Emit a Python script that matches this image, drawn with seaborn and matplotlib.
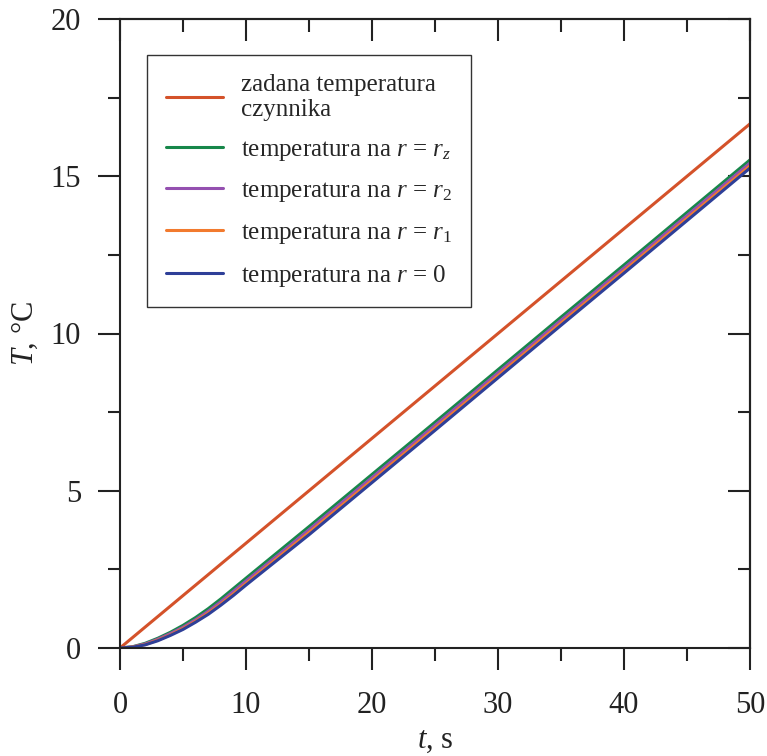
import numpy as np
import pandas as pd
import matplotlib
matplotlib.use("Agg")
import matplotlib.pyplot as plt
import seaborn as sns
from matplotlib.ticker import MultipleLocator

# ---- data ----
t = [0, 1, 2, 3, 4, 5, 6, 7, 8, 9, 10, 12.5, 15, 20, 25, 30, 35, 40, 45, 50]
T_set = [0, 0.333, 0.667, 1.0, 1.333, 1.667, 2.0, 2.333, 2.667, 3.0, 3.333,
         4.167, 5.0, 6.667, 8.333, 10.0, 11.667, 13.333, 15.0, 16.667]
T_rz = [0, 0.04, 0.15, 0.31, 0.50, 0.72, 0.97, 1.25, 1.56, 1.89, 2.22,
        3.04, 3.86, 5.52, 7.18, 8.85, 10.52, 12.18, 13.85, 15.52]
T_r2 = [0, 0.035, 0.13, 0.28, 0.46, 0.66, 0.90, 1.17, 1.47, 1.80, 2.13,
        2.94, 3.76, 5.42, 7.08, 8.75, 10.42, 12.08, 13.75, 15.42]
T_r1 = [0, 0.03, 0.11, 0.25, 0.42, 0.62, 0.85, 1.11, 1.40, 1.72, 2.05,
        2.86, 3.67, 5.33, 6.99, 8.66, 10.33, 11.99, 13.66, 15.33]
T_r0 = [0, 0.025, 0.10, 0.23, 0.40, 0.59, 0.82, 1.07, 1.36, 1.67, 2.00,
        2.80, 3.60, 5.26, 6.92, 8.59, 10.26, 11.92, 13.59, 15.26]

labels = ["zadana temperatura\nczynnika",
          r"temperatura na $r$ = $r_z$",
          r"temperatura na $r$ = $r_{\mathit{2}}$",
          r"temperatura na $r$ = $r_{\mathit{1}}$",
          r"temperatura na $r$ = 0"]
colors = ["#D4522A", "#17874A", "#9450B0", "#F27A2E", "#2E3F98"]

series = [T_set, T_rz, T_r2, T_r1, T_r0]
df = pd.concat([pd.DataFrame({"t": t, "T": s, "series": lab})
                for s, lab in zip(series, labels)], ignore_index=True)

sns.set_theme(style="ticks")
plt.rcParams["font.family"] = ["Liberation Serif", "DejaVu Serif"]
plt.rcParams["mathtext.fontset"] = "custom"
plt.rcParams["mathtext.rm"] = "Liberation Serif"
plt.rcParams["mathtext.it"] = "Liberation Serif:italic"
plt.rcParams["mathtext.bf"] = "Liberation Serif:bold"

fig = plt.figure(figsize=(7.67, 7.56), dpi=100)
ax = fig.add_axes([120 / 767, 1 - 648 / 756, 630 / 767, 629 / 756])

sns.lineplot(data=df, x="t", y="T", hue="series", hue_order=labels,
             palette=dict(zip(labels, colors)), linewidth=2.2, ax=ax,
             estimator=None, sort=True)

ax.set_xlim(0, 50)
ax.set_ylim(0, 20)
ax.xaxis.set_major_locator(MultipleLocator(10))
ax.xaxis.set_minor_locator(MultipleLocator(5))
ax.yaxis.set_major_locator(MultipleLocator(5))
ax.yaxis.set_minor_locator(MultipleLocator(2.5))

for sp in ax.spines.values():
    sp.set_visible(True)
    sp.set_linewidth(1.5)
    sp.set_color("#222222")

ax.tick_params(axis="both", which="major", direction="out", length=16,
               width=1.5, labelsize=22, color="#222222", labelcolor="#222222")
ax.tick_params(axis="both", which="minor", direction="out", length=9,
               width=1.5, color="#222222")
ax.tick_params(axis="x", which="major", pad=15)
ax.tick_params(axis="y", which="major", pad=12)

# inward ticks on top and right
axt = ax.secondary_xaxis("top")
axt.xaxis.set_major_locator(MultipleLocator(10))
axt.xaxis.set_minor_locator(MultipleLocator(5))
axt.tick_params(which="major", direction="in", length=16, width=1.5, labeltop=False, color="#222222")
axt.tick_params(which="minor", direction="in", length=9, width=1.5, color="#222222")
axt.spines["top"].set_linewidth(1.5)
axr = ax.secondary_yaxis("right")
axr.yaxis.set_major_locator(MultipleLocator(5))
axr.yaxis.set_minor_locator(MultipleLocator(2.5))
axr.tick_params(which="major", direction="in", length=16, width=1.5, labelright=False, color="#222222")
axr.tick_params(which="minor", direction="in", length=9, width=1.5, color="#222222")
axr.spines["right"].set_linewidth(1.5)

ax.set_xlabel(r"$t$, s", fontsize=22, color="#222222", labelpad=4)
ax.set_ylabel(r"$T$, °C", fontsize=22, color="#222222", labelpad=8)

leg = ax.legend(loc="upper left", bbox_to_anchor=(0.043, 0.943),
                fontsize=18, frameon=True, fancybox=False,
                edgecolor="#333333", framealpha=1, handlelength=2.3,
                handletextpad=0.7, borderpad=0.75, labelspacing=0.68,
                borderaxespad=0)
leg.get_frame().set_linewidth(1.0)
for line in leg.get_lines():
    line.set_linewidth(2.2)

fig.savefig("out.png", dpi=100)
